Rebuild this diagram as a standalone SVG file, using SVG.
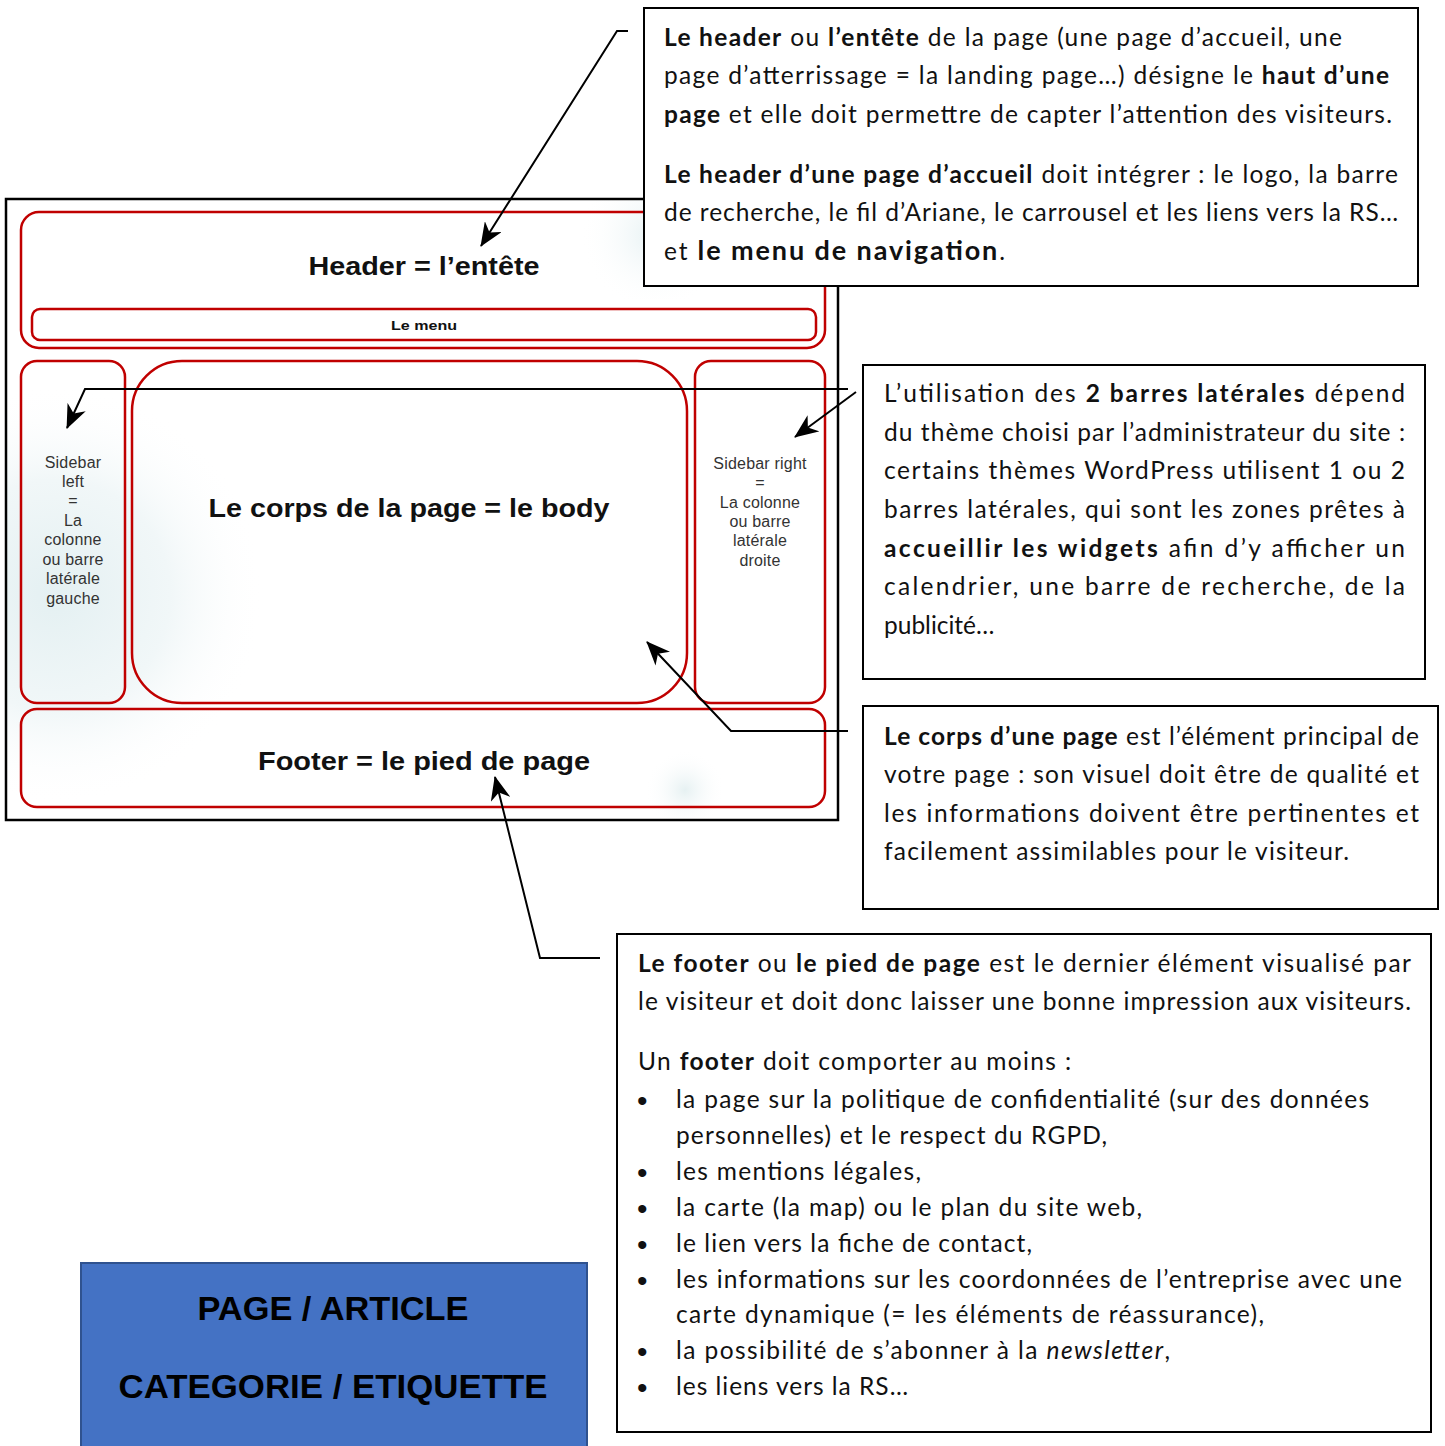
<svg xmlns="http://www.w3.org/2000/svg" width="1445" height="1446" viewBox="0 0 1445 1446">
<style>
.frame{fill:none;stroke:#000;stroke-width:2.5}
.zone{fill:none;stroke:#c00000;stroke-width:2.5}
.box{fill:#fff;stroke:#000;stroke-width:2}
.wt{font-family:"Liberation Sans",Arial,sans-serif;font-weight:bold;fill:#111;text-anchor:middle}
.st{font-family:"Liberation Sans",Arial,sans-serif;font-size:16px;letter-spacing:0.2px;fill:#333;text-anchor:middle}
.t{font-family:Lato,"Liberation Sans",Arial,sans-serif;font-size:24.5px;fill:#111}
.b{font-weight:bold}
.bul{font-family:"Liberation Sans",Arial,sans-serif;font-size:30px;fill:#111}
.conn{fill:none;stroke:#000;stroke-width:2}
.big{font-family:"Liberation Sans",Arial,sans-serif;font-weight:bold;font-size:34px;fill:#000;text-anchor:middle}
</style>
<defs>
<marker id="arr" viewBox="0 0 24 20" refX="23" refY="10" markerWidth="24" markerHeight="20" markerUnits="userSpaceOnUse" orient="auto">
<path d="M24,10 L0,0 L7,10 L0,20 Z" fill="#000"/>
</marker>
<radialGradient id="g1" cx="55" cy="595" r="210" gradientUnits="userSpaceOnUse">
<stop offset="0" stop-color="#e4f0f2"/><stop offset="0.55" stop-color="#f1f7f8"/><stop offset="1" stop-color="#fff" stop-opacity="0"/>
</radialGradient>
<radialGradient id="g2" cx="655" cy="235" r="75" gradientUnits="userSpaceOnUse">
<stop offset="0" stop-color="#e6f1f3"/><stop offset="1" stop-color="#fff" stop-opacity="0"/>
</radialGradient>
<radialGradient id="g3" cx="685" cy="790" r="40" gradientUnits="userSpaceOnUse">
<stop offset="0" stop-color="#e6f1f2"/><stop offset="1" stop-color="#fff" stop-opacity="0"/>
</radialGradient>
</defs>
<rect width="1445" height="1446" fill="#fff"/>

<g id="wireframe">
<rect x="6" y="199" width="832" height="621" fill="#fff"/>
<rect x="6" y="199" width="832" height="621" fill="url(#g1)"/>
<rect x="560" y="199" width="190" height="100" fill="url(#g2)"/>
<rect x="630" y="740" width="110" height="80" fill="url(#g3)"/>
<rect class="frame" x="6" y="199" width="832" height="621"/>
</g>

<g id="header">
<rect class="zone" x="21" y="212" width="804" height="136" rx="18"/>
<text class="wt" x="424" y="275" font-size="25" textLength="231" lengthAdjust="spacingAndGlyphs">Header = l’entête</text>
</g>
<g id="menu">
<rect class="zone" x="32" y="309" width="784" height="31" rx="8"/>
<text class="wt" x="424" y="330" font-size="13" textLength="66" lengthAdjust="spacingAndGlyphs">Le menu</text>
</g>
<g id="sidebar-left">
<rect class="zone" x="21" y="361" width="104" height="342" rx="16"/>
<text class="st" x="73" y="468">Sidebar</text>
<text class="st" x="73" y="487">left</text>
<text class="st" x="73" y="506">=</text>
<text class="st" x="73" y="526">La</text>
<text class="st" x="73" y="545">colonne</text>
<text class="st" x="73" y="565">ou barre</text>
<text class="st" x="73" y="584">latérale</text>
<text class="st" x="73" y="604">gauche</text>
</g>
<g id="body">
<rect class="zone" x="132" y="361" width="555" height="342" rx="50"/>
<text class="wt" x="409" y="517" font-size="25" textLength="401" lengthAdjust="spacingAndGlyphs">Le corps de la page = le body</text>
</g>
<g id="sidebar-right">
<rect class="zone" x="695" y="361" width="130" height="342" rx="16"/>
<text class="st" x="760" y="469">Sidebar right</text>
<text class="st" x="760" y="488">=</text>
<text class="st" x="760" y="508">La colonne</text>
<text class="st" x="760" y="527">ou barre</text>
<text class="st" x="760" y="546">latérale</text>
<text class="st" x="760" y="566">droite</text>
</g>
<g id="footer">
<rect class="zone" x="21" y="709" width="804" height="98" rx="16"/>
<text class="wt" x="424" y="770" font-size="25" textLength="332" lengthAdjust="spacingAndGlyphs">Footer = le pied de page</text>
</g>

<g id="connectors">
<polyline class="conn" points="628,31 617,31 481,246" marker-end="url(#arr)"/>
<polyline class="conn" points="848,389 85,389 67,428" marker-end="url(#arr)"/>
<polyline class="conn" points="856,392 795,437" marker-end="url(#arr)"/>
<polyline class="conn" points="848,731 731,731 647,642" marker-end="url(#arr)"/>
<polyline class="conn" points="600,958 540,958 495,777" marker-end="url(#arr)"/>
</g>

<g id="note-header">
<rect class="box" x="644" y="8" width="774" height="278"/>
<text class="t" x="664" y="46" textLength="678" lengthAdjust="spacing"><tspan class="b">Le header</tspan> ou <tspan class="b">l’entête</tspan> de la page (une page d’accueil, une</text>
<text class="t" x="664" y="84" textLength="725" lengthAdjust="spacing">page d’atterrissage = la landing page…) désigne le <tspan class="b">haut d’une</tspan></text>
<text class="t" x="664" y="123" textLength="728" lengthAdjust="spacing"><tspan class="b">page</tspan> et elle doit permettre de capter l’attention des visiteurs.</text>
<text class="t" x="664" y="183" textLength="734" lengthAdjust="spacing"><tspan class="b">Le header d’une page d’accueil</tspan> doit intégrer : le logo, la barre</text>
<text class="t" x="664" y="221" textLength="734" lengthAdjust="spacing">de recherche, le fil d’Ariane, le carrousel et les liens vers la RS…</text>
<text class="t" x="664" y="260" textLength="341" lengthAdjust="spacing">et <tspan class="b" font-size="27">le menu de navigation</tspan>.</text>
</g>

<g id="note-sidebars">
<rect class="box" x="863" y="365" width="562" height="314"/>
<text class="t" x="884" y="402" textLength="521" lengthAdjust="spacing">L’utilisation des <tspan class="b">2 barres latérales</tspan> dépend</text>
<text class="t" x="884" y="441" textLength="521" lengthAdjust="spacing">du thème choisi par l’administrateur du site :</text>
<text class="t" x="884" y="479" textLength="521" lengthAdjust="spacing">certains thèmes WordPress utilisent 1 ou 2</text>
<text class="t" x="884" y="518" textLength="521" lengthAdjust="spacing">barres latérales, qui sont les zones prêtes à</text>
<text class="t" x="884" y="557" textLength="521" lengthAdjust="spacing"><tspan class="b">accueillir les widgets</tspan> afin d’y afficher un</text>
<text class="t" x="884" y="595" textLength="521" lengthAdjust="spacing">calendrier, une barre de recherche, de la</text>
<text class="t" x="884" y="634">publicité…</text>
</g>

<g id="note-body">
<rect class="box" x="863" y="706" width="575" height="203"/>
<text class="t" x="884" y="745" textLength="535" lengthAdjust="spacing"><tspan class="b">Le corps d’une page</tspan> est l’élément principal de</text>
<text class="t" x="884" y="783" textLength="535" lengthAdjust="spacing">votre page : son visuel doit être de qualité et</text>
<text class="t" x="884" y="822" textLength="535" lengthAdjust="spacing">les informations doivent être pertinentes et</text>
<text class="t" x="884" y="860" textLength="465" lengthAdjust="spacing">facilement assimilables pour le visiteur.</text>
</g>

<g id="note-footer">
<rect class="box" x="617" y="934" width="814" height="498"/>
<text class="t" x="638" y="972" textLength="773" lengthAdjust="spacing"><tspan class="b">Le footer</tspan> ou <tspan class="b">le pied de page</tspan> est le dernier élément visualisé par</text>
<text class="t" x="638" y="1010" textLength="773" lengthAdjust="spacing">le visiteur et doit donc laisser une bonne impression aux visiteurs.</text>
<text class="t" x="638" y="1070" textLength="433" lengthAdjust="spacing">Un <tspan class="b">footer</tspan> doit comporter au moins :</text>
<text class="bul" x="637" y="1111">•</text>
<text class="t" x="676" y="1108" textLength="693" lengthAdjust="spacing">la page sur la politique de confidentialité (sur des données</text>
<text class="t" x="676" y="1144" textLength="431" lengthAdjust="spacing">personnelles) et le respect du RGPD,</text>
<text class="bul" x="637" y="1183">•</text>
<text class="t" x="676" y="1180" textLength="245" lengthAdjust="spacing">les mentions légales,</text>
<text class="bul" x="637" y="1219">•</text>
<text class="t" x="676" y="1216" textLength="466" lengthAdjust="spacing">la carte (la map) ou le plan du site web,</text>
<text class="bul" x="637" y="1255">•</text>
<text class="t" x="676" y="1252" textLength="356" lengthAdjust="spacing">le lien vers la fiche de contact,</text>
<text class="bul" x="637" y="1291">•</text>
<text class="t" x="676" y="1288" textLength="726" lengthAdjust="spacing">les informations sur les coordonnées de l’entreprise avec une</text>
<text class="t" x="676" y="1323" textLength="588" lengthAdjust="spacing">carte dynamique (= les éléments de réassurance),</text>
<text class="bul" x="637" y="1362">•</text>
<text class="t" x="676" y="1359" textLength="494" lengthAdjust="spacing">la possibilité de s’abonner à la <tspan font-style="italic">newsletter</tspan>,</text>
<text class="bul" x="637" y="1398">•</text>
<text class="t" x="676" y="1395" textLength="232" lengthAdjust="spacing">les liens vers la RS…</text>
</g>

<g id="page-article">
<rect x="81" y="1263" width="506" height="195" fill="#4472c4" stroke="#2f528f" stroke-width="2"/>
<text class="big" x="333" y="1320" textLength="271" lengthAdjust="spacingAndGlyphs">PAGE / ARTICLE</text>
<text class="big" x="333" y="1398" textLength="429" lengthAdjust="spacingAndGlyphs">CATEGORIE / ETIQUETTE</text>
</g>
</svg>
